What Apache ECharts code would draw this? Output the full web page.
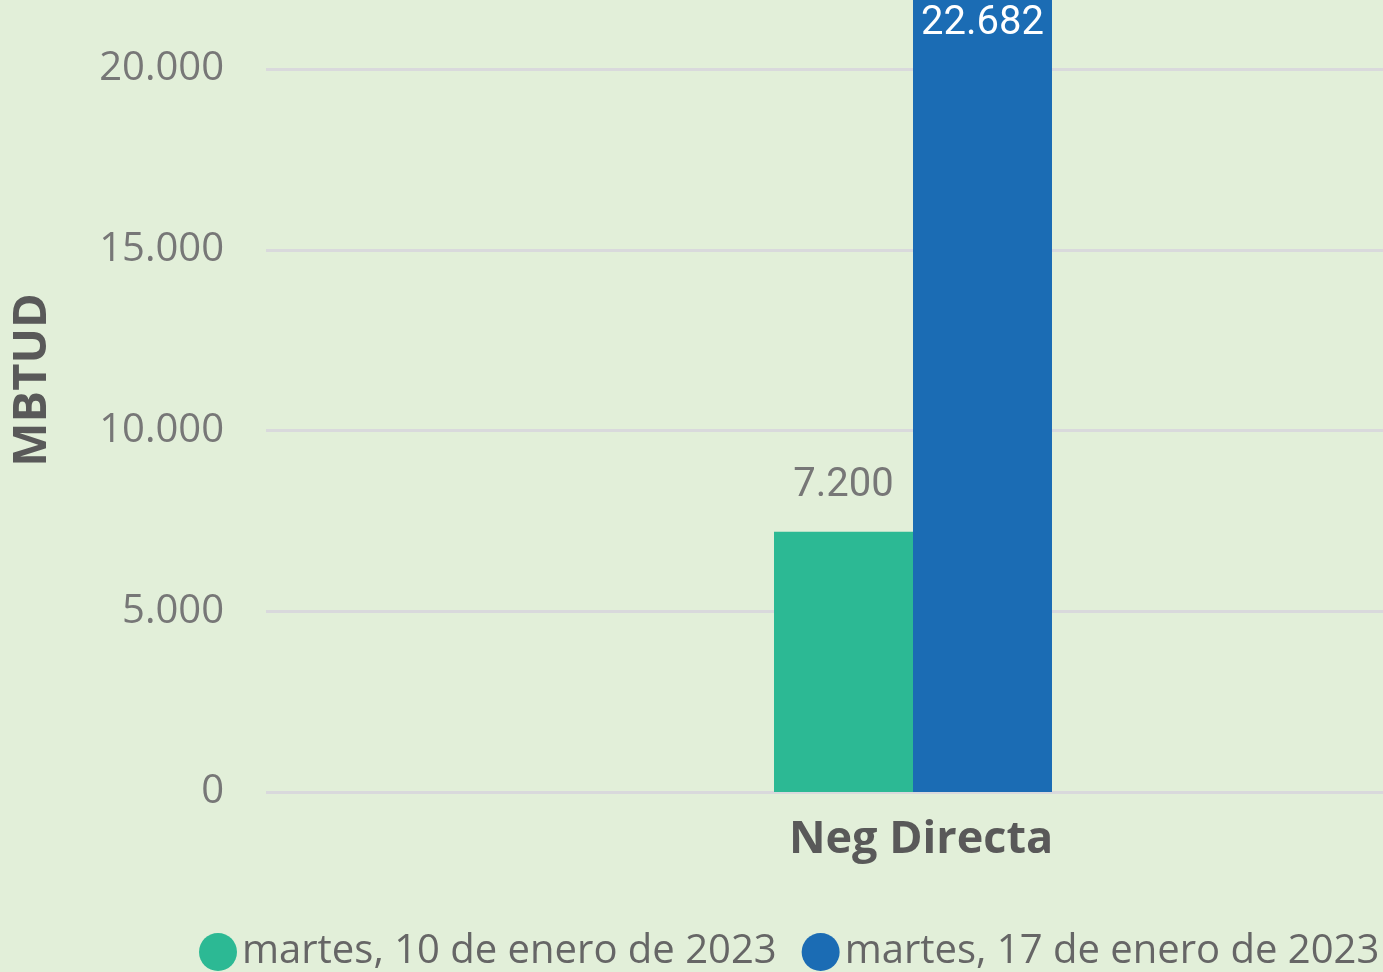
<!DOCTYPE html>
<html>
<head>
<meta charset="utf-8">
<script src="https://cdn.jsdelivr.net/npm/echarts@6/dist/echarts.min.js"></script>
<style>
html,body{margin:0;padding:0;background:#E2EFD9;}
#c{width:1383px;height:972px;}
</style>
</head>
<body>
<div id="c"></div>
<script>
const categories = ['Neg Directa'];
const seriesNames = ['martes, 10 de enero de 2023', 'martes, 17 de enero de 2023'];
const values10Ene = [7200];
const values17Ene = [22682];
const yTicks = [0, 5000, 10000, 15000, 20000];

function fmt(v){ return String(Math.round(v)).replace(/\B(?=(\d{3})+(?!\d))/g, '.'); }

const chart = echarts.init(document.getElementById('c'), null, {renderer:'canvas'});
chart.setOption({
  backgroundColor: '#E2EFD9',
  animation: false,
  grid: { left: 266, right: -177, top: 0, bottom: 180, containLabel: false, outerBoundsMode: 'none' },
  legend: {
    left: 194, top: 927, width: 1300,
    icon: 'circle', itemWidth: 38, itemHeight: 38, itemGap: 25,
    textStyle: { fontFamily: 'Open Sans', fontSize: 40, color: '#666666' },
    data: seriesNames
  },
  xAxis: {
    type: 'category', data: categories,
    axisLine: { show: false }, axisTick: { show: false },
    axisLabel: { margin: 26, fontFamily: 'Open Sans', fontWeight: 'bold', fontSize: 45, color: '#595959', padding: [0,0,0,16] }
  },
  yAxis: {
    type: 'value', min: 0, max: 21909, interval: 5000,
    name: 'MBTUD', nameLocation: 'middle', nameRotate: 90, nameGap: 210,
    nameTextStyle: { fontFamily: 'Open Sans', fontWeight: 'bold', fontSize: 47, color: '#595959', padding: [0,0,0,32] },
    axisLine: { show: false }, axisTick: { show: false },
    axisLabel: { margin: 42, fontFamily: 'Open Sans', fontSize: 40, color: '#777777', formatter: v => fmt(v), showMaxLabel: false },
    splitLine: { show: true, showMaxLine: false, lineStyle: { color: '#D9D9DC', width: 3 } }
  },
  series: [
    {
      name: seriesNames[0], type: 'bar', data: values10Ene,
      barWidth: 139, barGap: '0%',
      itemStyle: { color: '#2CB994' },
      label: { show: true, position: 'top', distance: 26, fontFamily: 'Roboto', fontSize: 40, color: '#777777', formatter: p => fmt(p.value) }
    },
    {
      name: seriesNames[1], type: 'bar', data: values17Ene,
      barWidth: 139, barGap: '0%',
      itemStyle: { color: '#1B6CB4' },
      label: { show: true, position: 'insideTop', distance: 4, fontFamily: 'Roboto', fontSize: 40, color: '#FFFFFF', formatter: p => fmt(p.value) }
    }
  ]
});
</script>
</body>
</html>
